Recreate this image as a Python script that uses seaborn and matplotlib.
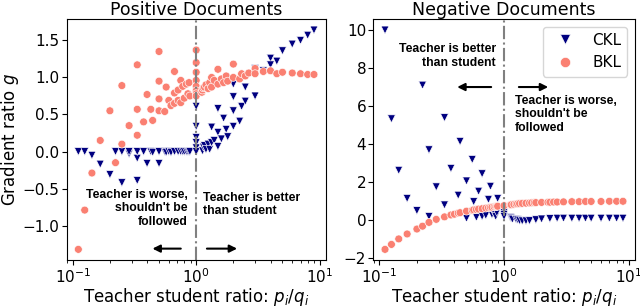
import numpy as np
import pandas as pd
from matplotlib import pyplot as plt
import seaborn as sns

# ---- values ----
# Positive documents, CKL (navy triangles)
pos_ckl_x = [0.111, 0.125, 0.143, 0.167, 0.2, 0.222, 0.25, 0.25, 0.286, 0.286,
             0.333, 0.333, 0.333, 0.375, 0.4, 0.429, 0.444, 0.5, 0.5, 0.556,
             0.571, 0.6, 0.625, 0.667, 0.714, 0.75, 0.778, 0.8, 0.833, 0.857,
             0.875, 0.889,
             1.0, 1.0, 1.0, 1.0, 1.0, 1.0,
             1.125, 1.143, 1.167, 1.2, 1.25, 1.286, 1.333, 1.333, 1.4, 1.5,
             1.5, 1.5, 1.6, 1.667, 1.75, 1.8, 2.0, 2.0, 2.0, 2.0,
             2.25, 2.333, 2.5, 2.5, 3.0, 3.0, 3.5, 4.0, 4.0, 4.5,
             5.0, 6.0, 7.0, 8.0, 9.0]
pos_ckl_g = [0.0, 0.0, -0.05, -0.17, -0.31, 0.0, -0.42, 0.0, -0.03, 0.0,
             -0.39, -0.09, 0.0, 0.0, -0.16, 0.0, -0.01, -0.16, 0.0, 0.0,
             -0.01, 0.0, -0.01, 0.0, 0.0, 0.0, 0.0, 0.0, 0.0, 0.0,
             0.0, 0.0,
             0.61, 0.34, 0.19, 0.12, 0.05, 0.0,
             0.01, 0.06, 0.08, 0.03, 0.1, 0.03, 0.33, 0.12, 0.15, 0.58,
             0.07, 0.26, 0.17, 0.45, 0.3, 0.2, 0.91, 0.74, 0.55, 0.34,
             0.41, 0.61, 0.87, 0.68, 0.75, 1.12, 1.09, 1.26, 1.17, 1.22,
             1.36, 1.45, 1.5, 1.57, 1.64]

# Positive documents, BKL (salmon circles)
pos_bkl_x = [0.111, 0.125, 0.143, 0.167, 0.2, 0.222, 0.25, 0.25, 0.286, 0.333,
             0.333, 0.333, 0.375, 0.4, 0.429, 0.444, 0.5, 0.5, 0.5, 0.5,
             0.556, 0.571, 0.6, 0.625, 0.667, 0.667, 0.667, 0.714, 0.714, 0.75,
             0.75, 0.778, 0.8, 0.833, 0.857, 0.875, 0.889,
             1.0, 1.0, 1.0, 1.0, 1.0, 1.0, 1.0, 1.0,
             1.111, 1.125, 1.143, 1.167, 1.2, 1.25, 1.286, 1.333, 1.333, 1.4,
             1.5, 1.5, 1.6, 1.667, 1.75, 1.8, 2.0, 2.0, 2.25, 2.333,
             2.5, 2.667, 3.0, 3.0, 3.5, 4.0, 4.5, 5.0, 6.0, 7.0,
             8.0, 9.0]
pos_bkl_g = [-1.32, -0.79, -0.29, 0.15, 0.55, -0.15, 0.89, 0.1, 0.35, 1.17,
             0.57, 0.22, 0.4, 0.77, 0.57, 0.42, 1.35, 0.95, 0.71, 0.55,
             0.54, 0.87, 0.69, 0.62, 1.08, 0.79, 0.65, 0.83, 0.69, 0.96,
             0.66, 0.88, 0.72, 0.91, 0.78, 0.93, 0.75,
             1.37, 1.2, 1.07, 0.96, 0.88, 0.82, 0.78, 0.75,
             0.8, 0.83, 0.86, 0.87, 0.9, 0.85, 0.93, 1.0, 0.87, 0.96,
             1.11, 0.91, 0.98, 0.93, 1.02, 0.95, 1.18, 1.0, 0.98, 1.05,
             1.02, 1.06, 1.12, 1.05, 1.08, 1.09, 1.05, 1.07, 1.06, 1.05,
             1.04, 1.04]

# Negative documents, CKL
neg_ckl_x = [0.111, 0.125, 0.143, 0.167, 0.2, 0.222, 0.25, 0.25, 0.286, 0.333,
             0.333, 0.375, 0.429, 0.444, 0.5, 0.5, 0.556, 0.571, 0.6, 0.625,
             0.667, 0.667, 0.714, 0.75, 0.778, 0.8, 0.833, 0.857, 0.875, 0.889,
             1.0, 1.0, 1.0, 1.0,
             1.125, 1.143, 1.167, 1.25, 1.286, 1.333, 1.4, 1.5, 1.6, 1.8,
             2.0, 2.333, 2.667, 3.0, 3.5, 4.0, 4.5, 5.0, 6.0, 7.0,
             8.0, 9.0]
neg_ckl_g = [10.0, 5.33, 2.62, 1.14, 0.5, 7.1, 3.7, 0.19, 1.75, 5.39,
             0.8, 2.72, 1.31, 4.14, 2.06, 0.1, 3.19, 0.97, 0.15, 1.52,
             2.44, 0.2, 0.25, 1.09, 1.78, 0.3, 0.35, 0.2, 0.4, 1.14,
             0.5, 0.4, 0.3, 0.2,
             0.14, 0.1, 0.05, 0.04, 0.02, -0.03, -0.04, -0.04, -0.03, 0.02,
             0.06, 0.08, 0.1, 0.1, 0.1, 0.1, 0.1, 0.1, 0.1, 0.1,
             0.1, 0.1]

# Negative documents, BKL
neg_bkl_x = [0.111, 0.125, 0.143, 0.167, 0.2, 0.222, 0.25, 0.286, 0.333, 0.375,
             0.4, 0.429, 0.444, 0.5, 0.556, 0.571, 0.6, 0.625, 0.667, 0.714,
             0.75, 0.778, 0.8, 0.833, 0.857, 0.875, 0.889, 1.0,
             1.125, 1.143, 1.2, 1.25, 1.286, 1.333, 1.4, 1.5, 1.6, 1.667,
             1.75, 1.8, 2.0, 2.25, 2.333, 2.5, 2.667, 3.0, 3.5, 4.0,
             4.5, 5.0, 6.0, 7.0, 8.0, 9.0]
neg_bkl_g = [-1.54, -1.28, -0.99, -0.73, -0.47, -0.32, -0.12, 0.04, 0.17, 0.27,
             0.31, 0.37, 0.39, 0.47, 0.52, 0.54, 0.56, 0.58, 0.6, 0.63,
             0.65, 0.67, 0.68, 0.7, 0.71, 0.72, 0.73, 0.76,
             0.8, 0.81, 0.83, 0.85, 0.86, 0.87, 0.88, 0.89, 0.9, 0.91,
             0.92, 0.92, 0.93, 0.94, 0.94, 0.95, 0.95, 0.96, 0.97, 0.97,
             0.98, 0.98, 0.98, 0.99, 0.99, 0.99]


def make_df(ckl_x, ckl_g, bkl_x, bkl_g):
    # CKL first so the BKL circles end up drawn on top
    d1 = pd.DataFrame({'ratio': ckl_x, 'g': ckl_g, 'Loss': 'CKL'})
    d2 = pd.DataFrame({'ratio': bkl_x, 'g': bkl_g, 'Loss': 'BKL'})
    return pd.concat([d1, d2], ignore_index=True)


pos_df = make_df(pos_ckl_x, pos_ckl_g, pos_bkl_x, pos_bkl_g)
neg_df = make_df(neg_ckl_x, neg_ckl_g, neg_bkl_x, neg_bkl_g)

palette = {'CKL': 'navy', 'BKL': 'salmon'}
markers = {'CKL': 'v', 'BKL': 'o'}
note_font = dict(family='Liberation Sans', weight='bold', size=8.8)
arrow = dict(arrowstyle='-|>', color='black', lw=1.5, mutation_scale=11)

fig, axes = plt.subplots(1, 2, figsize=(6.4, 3.07), dpi=100)
# place both panels by hand (figure fractions)
axes[0].set_position([0.104, 0.152, 0.405, 0.786])
axes[1].set_position([0.583, 0.152, 0.409, 0.786])

# ---- left panel: positive documents ----
ax = axes[0]
sns.scatterplot(data=pos_df, x='ratio', y='g', hue='Loss', style='Loss',
                palette=palette, markers=markers, s=32, legend=False, ax=ax)
ax.set_xscale('log')
ax.axvline(1, color='gray', linestyle='-.', lw=1.5)
ax.set_title('Positive Documents', fontsize=12.5, pad=2)
ax.set_xlabel('Teacher student ratio: $p_i/q_i$', fontsize=12, labelpad=0)
ax.set_ylabel('Gradient ratio $g$', fontsize=12, labelpad=1)
ax.set_yticks([-1.0, -0.5, 0.0, 0.5, 1.0, 1.5])
ax.text(0.85, -0.5, "Teacher is worse,\nshouldn't be\nfollowed", ha='right',
        va='top', linespacing=1.2, **note_font)
ax.text(1.14, -0.54, 'Teacher is better\nthan student', ha='left', va='top',
        linespacing=1.2, **note_font)
ax.annotate('', xy=(0.42, -1.31), xytext=(0.79, -1.31), arrowprops=arrow)
ax.annotate('', xy=(2.26, -1.31), xytext=(1.16, -1.31), arrowprops=arrow)

# ---- right panel: negative documents ----
ax = axes[1]
sns.scatterplot(data=neg_df, x='ratio', y='g', hue='Loss', style='Loss',
                palette=palette, markers=markers, s=32, ax=ax)
ax.set_xscale('log')
ax.axvline(1, color='gray', linestyle='-.', lw=1.5)
ax.set_title('Negative Documents', fontsize=12.5, pad=2)
ax.set_xlabel('Teacher student ratio: $p_i/q_i$', fontsize=12, labelpad=0)
ax.set_ylabel('')
ax.set_yticks([-2, 0, 2, 4, 6, 8, 10])
ax.text(0.863, 9.3, 'Teacher is better\nthan student', ha='right', va='top',
        linespacing=1.2, **note_font)
ax.text(1.22, 6.6, "Teacher is worse,\nshouldn't be\nfollowed", ha='left',
        va='top', linespacing=1.2, **note_font)
ax.annotate('', xy=(0.40, 7.0), xytext=(0.83, 7.0), arrowprops=arrow)
ax.annotate('', xy=(2.38, 7.0), xytext=(1.25, 7.0), arrowprops=arrow)
ax.legend(loc='upper right', fontsize=11, title=None, markerscale=1.3)

for a in axes:
    a.tick_params(labelsize=11, pad=1.5)

plt.savefig('out.png', dpi=100)
